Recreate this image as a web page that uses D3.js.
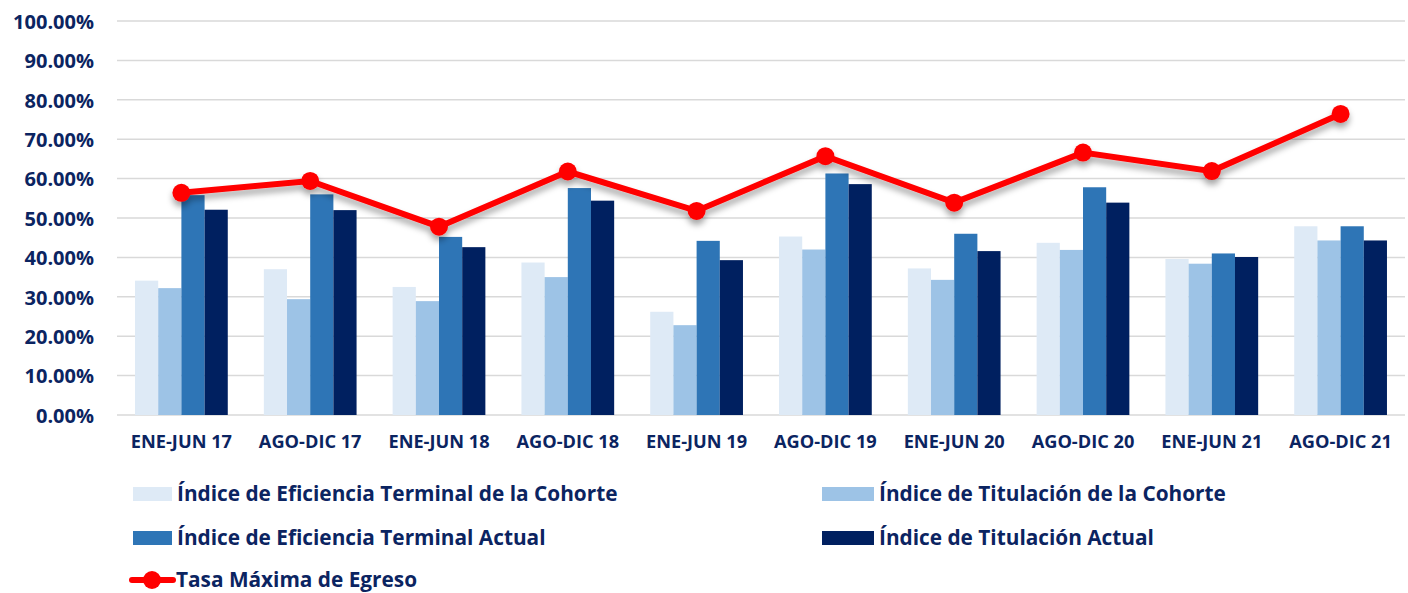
<!DOCTYPE html>
<html>
<head>
<meta charset="utf-8">
<script src="https://cdn.jsdelivr.net/npm/d3@7"></script>
<style>
  body { margin: 0; background: #fff; }
  svg text { font-family: "Open Sans", Lato, sans-serif; font-weight: bold; fill: #0b2461; }
</style>
</head>
<body>
<svg id="chart" width="1408" height="593" viewBox="0 0 1408 593"></svg>
<script>
// periods on the x axis
const periods = ["ENE-JUN 17", "AGO-DIC 17", "ENE-JUN 18", "AGO-DIC 18", "ENE-JUN 19",
  "AGO-DIC 19", "ENE-JUN 20", "AGO-DIC 20", "ENE-JUN 21", "AGO-DIC 21"];

// bar series (percent)
const eficienciaCohorte = [34.1, 37.0, 32.5, 38.7, 26.2, 45.3, 37.2, 43.7, 39.6, 47.9];
const titulacionCohorte = [32.2, 29.4, 28.9, 35.0, 22.8, 42.0, 34.3, 41.9, 38.4, 44.3];
const eficienciaActual = [55.8, 56.0, 45.2, 57.6, 44.2, 61.3, 46.0, 57.8, 41.0, 47.9];
const titulacionActual = [52.1, 52.0, 42.6, 54.4, 39.3, 58.6, 41.6, 53.9, 40.1, 44.3];

// line series
const tasaMaxima = [56.4, 59.4, 47.8, 61.8, 51.8, 65.7, 53.9, 66.6, 61.9, 76.4];

const yTicks = [0, 10, 20, 30, 40, 50, 60, 70, 80, 90, 100];

const barSeries = [
  { name: "Índice de Eficiencia Terminal de la Cohorte", values: eficienciaCohorte, color: "#deeaf6" },
  { name: "Índice de Titulación de la Cohorte", values: titulacionCohorte, color: "#9dc3e6" },
  { name: "Índice de Eficiencia Terminal Actual", values: eficienciaActual, color: "#2e75b6" },
  { name: "Índice de Titulación Actual", values: titulacionActual, color: "#002060" }
];

const svg = d3.select("#chart");
const plotLeft = 117, plotRight = 1405, plotTop = 21, plotBottom = 415;

const x = d3.scaleBand().domain(periods).range([plotLeft, plotRight]).paddingInner(0.28).paddingOuter(0.14);
const xs = d3.scaleBand().domain(d3.range(barSeries.length)).range([0, x.bandwidth()]);
const y = d3.scaleLinear().domain([0, 100]).range([plotBottom, plotTop]);

const defs = svg.append("defs");
const shadow = defs.append("filter").attr("id", "shadow")
  .attr("x", "-10%").attr("y", "-50%").attr("width", "120%").attr("height", "200%");
shadow.append("feDropShadow").attr("dx", 0).attr("dy", 5).attr("stdDeviation", 3)
  .attr("flood-color", "#000").attr("flood-opacity", 0.35);

// gridlines
svg.append("g")
  .selectAll("line")
  .data(yTicks)
  .enter()
  .append("line")
  .attr("x1", plotLeft).attr("x2", plotRight)
  .attr("y1", d => y(d)).attr("y2", d => y(d))
  .attr("stroke", "#d9d9d9").attr("stroke-width", 1.5);

// y axis labels
const yAxis = svg.append("g")
  .attr("transform", `translate(${plotLeft - 23},0)`)
  .call(d3.axisLeft(y).tickValues(yTicks).tickSize(0).tickFormat(d => d3.format(".2f")(d) + "%"));
yAxis.select(".domain").remove();
yAxis.selectAll("text").attr("font-size", 20).attr("font-family", null).attr("dy", "0.36em").attr("x", 0);

// x axis labels
const xAxis = svg.append("g")
  .attr("transform", `translate(0,${plotBottom})`)
  .call(d3.axisBottom(x).tickSize(0).tickPadding(0));
xAxis.select(".domain").remove();
xAxis.selectAll("text").attr("font-size", 18.2).attr("font-family", null).attr("y", 33).attr("dy", 0);

// bars
const groups = svg.append("g")
  .selectAll("g")
  .data(barSeries)
  .enter()
  .append("g")
  .attr("fill", d => d.color);

groups.selectAll("rect")
  .data((s, si) => s.values.map((v, i) => ({ v, i, si })))
  .enter()
  .append("rect")
  .attr("x", d => x(periods[d.i]) + xs(d.si))
  .attr("width", xs.bandwidth())
  .attr("y", d => y(d.v))
  .attr("height", d => y(0) - y(d.v));

// line series
const lineGroup = svg.append("g").attr("filter", "url(#shadow)");
const line = d3.line()
  .x((d, i) => x(periods[i]) + x.bandwidth() / 2)
  .y(d => y(d));

lineGroup.append("path")
  .datum(tasaMaxima)
  .attr("fill", "none")
  .attr("stroke", "#ff0000")
  .attr("stroke-width", 6)
  .attr("d", line);

lineGroup.selectAll("circle")
  .data(tasaMaxima)
  .enter()
  .append("circle")
  .attr("cx", (d, i) => x(periods[i]) + x.bandwidth() / 2)
  .attr("cy", d => y(d))
  .attr("r", 9)
  .attr("fill", "#ff0000");

// legend
const legendItems = [
  { s: barSeries[0], lx: 133, ly: 494, w: 39 },
  { s: barSeries[1], lx: 822, ly: 494, w: 52 },
  { s: barSeries[2], lx: 133, ly: 538, w: 39 },
  { s: barSeries[3], lx: 822, ly: 538, w: 52 }
];

const legend = svg.append("g");
legendItems.forEach(item => {
  legend.append("rect")
    .attr("x", item.lx).attr("y", item.ly - 7)
    .attr("width", item.w).attr("height", 14)
    .attr("fill", item.s.color);
  legend.append("text")
    .attr("x", item.lx + item.w + 5).attr("y", item.ly)
    .attr("dy", "0.36em")
    .attr("font-size", 20.8)
    .text(item.s.name);
});

legend.append("line")
  .attr("x1", 132).attr("x2", 173).attr("y1", 580).attr("y2", 580)
  .attr("stroke", "#ff0000").attr("stroke-width", 6).attr("stroke-linecap", "round");
legend.append("circle").attr("cx", 152).attr("cy", 580).attr("r", 9).attr("fill", "#ff0000");
legend.append("text")
  .attr("x", 176).attr("y", 580).attr("dy", "0.36em")
  .attr("font-size", 20.8)
  .text("Tasa Máxima de Egreso");
</script>
</body>
</html>
